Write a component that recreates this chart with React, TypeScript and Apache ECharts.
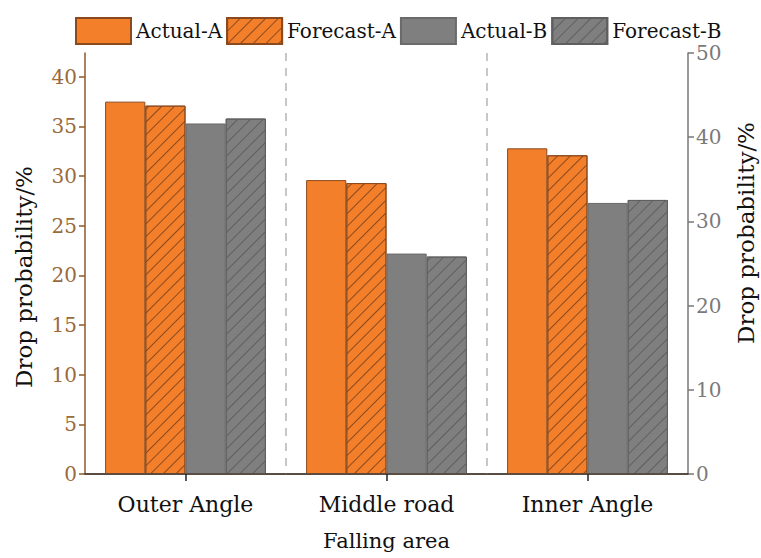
import React, { useEffect, useRef } from "react";
import * as echarts from "echarts";

const categories = ["Outer Angle", "Middle road", "Inner Angle"];
const seriesNames = ["Actual-A", "Forecast-A", "Actual-B", "Forecast-B"];
const actualA = [37.5, 29.6, 32.8];
const forecastA = [37.1, 29.3, 32.1];
const actualB = [35.3, 22.2, 27.3];
const forecastB = [35.8, 21.9, 27.6];
const leftTicks = [0, 5, 10, 15, 20, 25, 30, 35, 40];
const rightTicks = [0, 10, 20, 30, 40, 50];
const yName = "Drop probability/%";
const xName = "Falling area";

const FONT = "DejaVu Serif";
const ORANGE = "#F47F2B";
const GRAY = "#7F7F7F";

export default function App() {
  const ref = useRef<HTMLDivElement>(null);
  useEffect(() => {
    if (!ref.current) return;
    const chart = echarts.init(ref.current, undefined, { renderer: "svg" });
    const hatch = (color: string) => ({
      symbol: "rect",
      symbolSize: 1,
      dashArrayX: [1, 0],
      dashArrayY: [1, 8],
      rotation: -Math.PI / 4,
      color,
    });
    const mk = (name: string, data: number[], fill: string, border: string, hatched: boolean) => ({
      name,
      type: "bar",
      data,
      xAxisIndex: 0,
      yAxisIndex: 0,
      barGap: "0%",
      barCategoryGap: "20%",
      itemStyle: {
        color: fill,
        borderColor: border,
        borderWidth: 1,
        ...(hatched ? { decal: hatch(border) } : {}),
      },
    });
    chart.setOption({
      animation: false,
      textStyle: { fontFamily: FONT },
      legend: {
        top: 12,
        left: 70,
        icon: "rect",
        itemWidth: 55,
        itemHeight: 26,
        itemGap: 4,
        textStyle: { fontFamily: FONT, fontSize: 20, color: "#111" },
        data: seriesNames,
      },
      grid: { left: 85, right: 73, top: 53, bottom: 84, containLabel: false },
      graphic: [
        {
          type: "text",
          x: 24,
          y: 277,
          rotation: Math.PI / 2,
          style: { text: yName, fontFamily: FONT, fontSize: 23, fill: "#111", align: "center", verticalAlign: "middle" },
        },
        {
          type: "text",
          x: 746,
          y: 233,
          rotation: Math.PI / 2,
          style: { text: yName, fontFamily: FONT, fontSize: 23, fill: "#111", align: "center", verticalAlign: "middle" },
        },
      ],
      xAxis: [
        {
          type: "category",
          data: categories,
          position: "bottom",
          axisLine: { show: true, lineStyle: { color: "#5a4a3c", width: 1.5 } },
          axisTick: { show: true, alignWithLabel: true, length: 7, lineStyle: { color: "#222", width: 1.5 } },
          axisLabel: { fontFamily: FONT, fontSize: 22, color: "#111", margin: 19 },
          splitLine: {
            show: true,
            showMinLine: false,
            showMaxLine: false,
            lineStyle: { color: "#b5b5b5", type: [8, 7], width: 1.5 },
          },
          name: xName,
          nameLocation: "middle",
          nameGap: 56,
          nameTextStyle: { fontFamily: FONT, fontSize: 21, color: "#111" },
          z: 5,
        },
        {
          type: "category",
          data: categories,
          position: "top",
          axisLine: { show: true, lineStyle: { color: "#222", width: 1.5 } },
          axisTick: { show: false },
          axisLabel: { show: false },
          splitLine: { show: false },
        },
      ],
      yAxis: [
        {
          type: "value",
          position: "left",
          min: 0,
          max: 42.4,
          interval: 5,
          axisLine: { show: true, lineStyle: { color: "#8B5A2B", width: 1.5 } },
          axisTick: { show: true, length: 6, customValues: leftTicks, lineStyle: { color: "#8B5A2B", width: 1.5 } },
          axisLabel: { fontFamily: FONT, fontSize: 20, color: "#9A6A3C", margin: 8, customValues: leftTicks },
          splitLine: { show: false },
        },
        {
          type: "value",
          position: "right",
          min: 0,
          max: 50,
          interval: 10,
          axisLine: { show: true, lineStyle: { color: "#777", width: 1.5 } },
          axisTick: { show: true, length: 6, customValues: rightTicks, lineStyle: { color: "#777", width: 1.5 } },
          axisLabel: { fontFamily: FONT, fontSize: 20, color: "#7a7a7a", margin: 8, customValues: rightTicks },
          splitLine: { show: false },
        },
      ],
      series: [
        mk(seriesNames[0], actualA, ORANGE, "#8B4A1E", false),
        mk(seriesNames[1], forecastA, ORANGE, "#8B4A1E", true),
        mk(seriesNames[2], actualB, GRAY, "#6a6a6a", false),
        mk(seriesNames[3], forecastB, GRAY, "#5f5f5f", true),
      ],
    });
    return () => chart.dispose();
  }, []);
  return (
    <div
      ref={ref}
      style={{ position: "fixed", left: 0, top: 0, width: 761, height: 558, background: "#fff" }}
    />
  );
}
